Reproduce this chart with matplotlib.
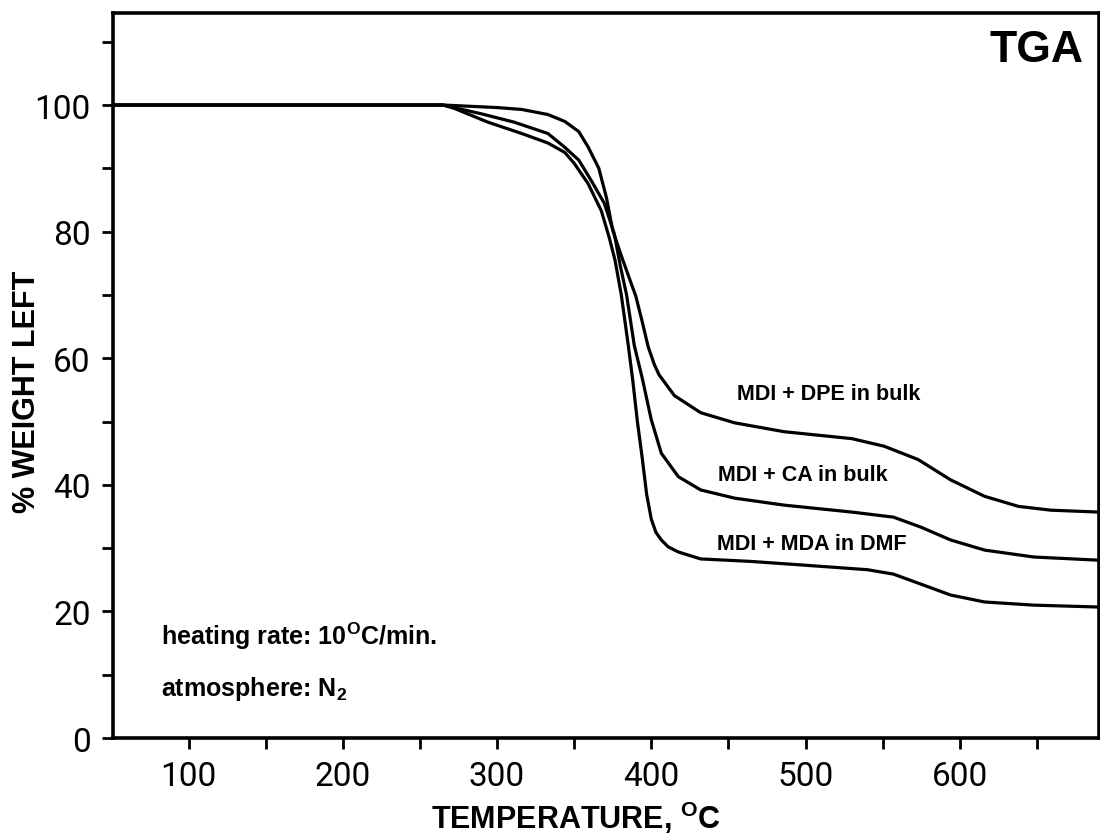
import matplotlib
matplotlib.use("Agg")
import matplotlib.pyplot as plt
from matplotlib.ticker import MultipleLocator

plt.rcParams['font.family'] = ['Liberation Sans', 'DejaVu Sans']
plt.rcParams['mathtext.fontset'] = 'custom'
plt.rcParams['mathtext.rm'] = 'Liberation Sans:bold'
plt.rcParams['mathtext.bf'] = 'Liberation Sans:bold'
plt.rcParams['mathtext.it'] = 'Liberation Sans:bold'

# ---- data ----
t_dpe = [50, 265, 300, 316, 333, 344, 353, 359, 366, 371, 375, 381, 387, 390, 394, 398, 402, 405, 415, 432, 454, 486, 530, 551, 573, 594, 616, 638, 659, 690]
w_dpe = [100, 100, 99.6, 99.3, 98.5, 97.4, 95.8, 93.4, 90.0, 85.3, 80.2, 75.9, 71.8, 69.8, 65.9, 61.8, 59.0, 57.4, 54.1, 51.4, 49.8, 48.4, 47.3, 46.1, 44.0, 40.8, 38.2, 36.6, 36.0, 35.7]

t_ca = [50, 265, 272, 290, 311, 333, 344, 353, 361, 369.5, 376, 380, 384, 389, 394, 400, 406.5, 417.5, 432, 454, 486, 530, 557, 575, 594, 616, 648, 690]
w_ca = [100, 100, 99.6, 98.6, 97.3, 95.5, 93.3, 91.3, 88.1, 84.5, 79.7, 74.5, 70.0, 62.0, 57.0, 50.3, 45.0, 41.3, 39.2, 37.9, 36.8, 35.7, 34.9, 33.3, 31.3, 29.7, 28.6, 28.1]

t_mda = [50, 265, 272, 294, 316, 333, 344, 350, 359, 367.6, 372.7, 376.5, 380.5, 385, 388, 391, 394, 397, 400, 403, 406.5, 411, 417.5, 432, 465, 500, 540, 557, 575, 594, 616, 648, 690]
w_mda = [100, 100, 99.5, 97.3, 95.5, 94.0, 92.5, 90.8, 87.6, 83.3, 79.1, 75.5, 70.1, 62.2, 56.5, 50.0, 44.5, 38.5, 34.6, 32.5, 31.3, 30.2, 29.4, 28.3, 27.9, 27.3, 26.6, 25.9, 24.3, 22.6, 21.5, 21.0, 20.7]

series_labels = ["MDI + DPE in bulk", "MDI + CA in bulk", "MDI + MDA in DMF"]
x_major = [100, 200, 300, 400, 500, 600]
y_major = [0, 20, 40, 60, 80, 100]

fig = plt.figure(figsize=(11, 8.37), dpi=100)
ax = fig.add_axes([0.1027, 0.117, 0.896, 0.866])

for t, w in [(t_dpe, w_dpe), (t_ca, w_ca), (t_mda, w_mda)]:
    ax.plot(t, w, color='black', lw=2.3, solid_capstyle='round', solid_joinstyle='round')

ax.set_xlim(51, 690)
ax.set_ylim(0, 114.5)
ax.set_xticks(x_major)
ax.set_yticks(y_major)
ax.xaxis.set_minor_locator(MultipleLocator(50))
ax.yaxis.set_minor_locator(MultipleLocator(10))
ax.tick_params(which='both', direction='out', width=2, color='black')
ax.tick_params(which='major', length=8, labelsize=24, pad=8)
ax.tick_params(which='minor', length=8)
for lab in ax.get_xticklabels() + ax.get_yticklabels():
    lab.set_family(['Roboto', 'DejaVu Sans'])
    lab.set_fontweight('normal')
for s in ax.spines.values():
    s.set_linewidth(2.6)

ax.set_xlabel(r"TEMPERATURE, $^{\mathrm{O}}$C", fontsize=22, fontweight='bold')
ax.xaxis.label.set_va('center')
ax.xaxis.set_label_coords(0.47, -0.108)
ax.set_ylabel("% WEIGHT LEFT", fontsize=22, fontweight='bold')
ax.yaxis.label.set_va('center')
ax.yaxis.set_label_coords(-0.087, 0.479)

ax.text(649.5, 108.8, "TGA", fontsize=32, fontweight='bold', ha='center', va='center')
ax.text(515, 54.5, series_labels[0], fontsize=15.5, fontweight='bold', ha='center', va='center')
ax.text(498, 41.6, series_labels[1], fontsize=15.5, fontweight='bold', ha='center', va='center')
ax.text(504, 30.8, series_labels[2], fontsize=15.5, fontweight='bold', ha='center', va='center')
ax.text(82, 16.3, r"heating rate: 10$^{\mathrm{O}}$C/min.", fontsize=18, fontweight='bold', ha='left', va='center')
ax.text(82, 7.9, r"atmosphere: N$_{\mathrm{2}}$", fontsize=18, fontweight='bold', ha='left', va='center')

fig.savefig("out.png", dpi=100)
